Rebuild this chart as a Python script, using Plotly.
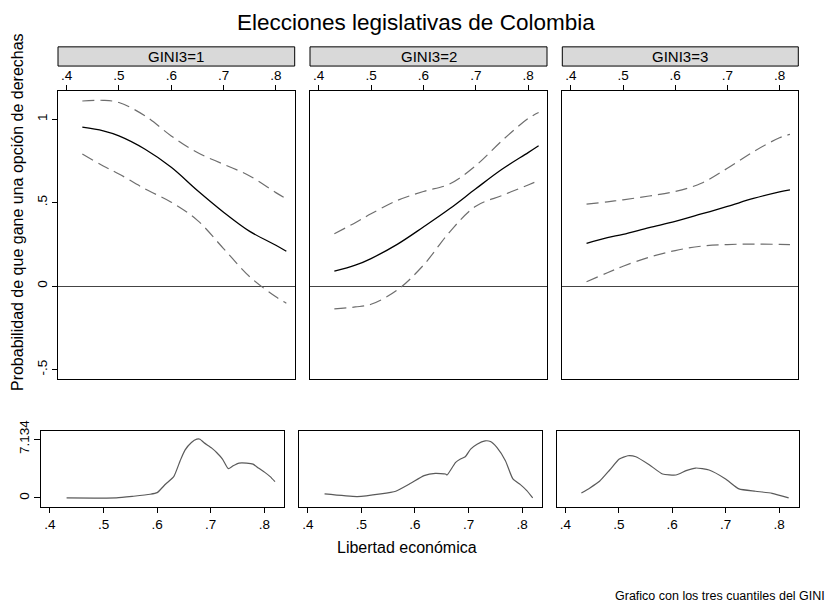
import plotly.graph_objects as go

W, H = 833, 605

# ---------------- data ----------------
panels = ["GINI3=1", "GINI3=2", "GINI3=3"]
x_fit = [0.43, 0.47, 0.50, 0.55, 0.60, 0.65, 0.70, 0.75, 0.80, 0.82]

mean1 = [0.952, 0.930, 0.900, 0.820, 0.712, 0.573, 0.443, 0.328, 0.245, 0.209]
upper1 = [1.109, 1.113, 1.100, 1.020, 0.900, 0.800, 0.730, 0.660, 0.560, 0.523]
lower1 = [0.791, 0.720, 0.672, 0.582, 0.503, 0.394, 0.225, 0.056, -0.064, -0.103]

mean2 = [0.089, 0.125, 0.165, 0.250, 0.354, 0.463, 0.583, 0.700, 0.800, 0.841]
upper2 = [0.314, 0.380, 0.433, 0.513, 0.567, 0.612, 0.722, 0.871, 1.004, 1.040]
lower2 = [-0.137, -0.125, -0.109, -0.024, 0.125, 0.324, 0.479, 0.543, 0.606, 0.632]

mean3 = [0.256, 0.290, 0.310, 0.350, 0.388, 0.432, 0.477, 0.525, 0.565, 0.577]
upper3 = [0.491, 0.505, 0.517, 0.540, 0.567, 0.616, 0.706, 0.805, 0.889, 0.909]
lower3 = [0.026, 0.080, 0.119, 0.173, 0.213, 0.239, 0.249, 0.252, 0.250, 0.249]

dens1_x = [0.431, 0.524, 0.556, 0.587, 0.600, 0.616, 0.631, 0.643, 0.652, 0.664, 0.674,
           0.680, 0.687, 0.702, 0.711, 0.722, 0.733, 0.742, 0.753, 0.767, 0.779, 0.789,
           0.801, 0.811, 0.820]
dens1_y = [0.0, 0.0, 0.2, 0.44, 0.64, 1.69, 2.58, 4.52, 5.8, 6.73, 7.134, 7.134, 6.73,
           6.05, 5.52, 4.72, 3.55, 3.91, 4.23, 4.23, 4.11, 3.63, 3.10, 2.58, 1.97]

dens2_x = [0.431, 0.492, 0.536, 0.564, 0.592, 0.617, 0.638, 0.657, 0.660, 0.676, 0.685,
           0.694, 0.704, 0.716, 0.731, 0.741, 0.753, 0.769, 0.783, 0.797, 0.809, 0.820]
dens2_y = [0.48, 0.16, 0.48, 0.81, 1.77, 2.70, 2.98, 2.90, 2.78, 4.31, 4.72, 5.0, 5.93,
           6.53, 6.93, 6.85, 6.13, 4.51, 2.30, 1.61, 0.89, 0.0]

dens3_x = [0.430, 0.446, 0.464, 0.483, 0.501, 0.517, 0.532, 0.557, 0.582, 0.607, 0.626,
           0.644, 0.669, 0.700, 0.725, 0.756, 0.787, 0.818]
dens3_y = [0.60, 1.21, 2.02, 3.39, 4.72, 5.12, 5.0, 4.03, 2.90, 2.78, 3.31, 3.63, 3.39,
           2.30, 1.09, 0.81, 0.56, 0.0]

x_tickvals = [0.4, 0.5, 0.6, 0.7, 0.8]
x_ticktext = [".4", ".5", ".6", ".7", ".8"]
y_tickvals = [-0.5, 0, 0.5, 1]
y_ticktext = ["-.5", "0", ".5", "1"]
d_tickvals = [0, 7.134]
d_ticktext = ["0", "7.134"]

title = "Elecciones legislativas de Colombia"
ytitle = "Probabilidad de que gane una opción de derechas"
xtitle = "Libertad económica"
note = "Grafico con los tres cuantiles del GINI"

# ---------------- layout helpers (target window pixels -> paper fractions) ----------------
OX, OY, PH = 8.0, 16.0, 597.0


def fx(px):
    return (px - OX) / W


def fy(px):
    return 1 - (px - OY) / PH


FONT = "Liberation Sans, Arial, sans-serif"
TICK = 13.5
top_x = [(58, 294.7), (310, 547), (562.3, 798.3)]
top_y = (88.7, 377.7)
bot_x = [(41.3, 284), (299.3, 541.7), (556.7, 798.7)]
bot_y = (430, 506)
strip_y = (44, 63.3)

fits = [(mean1, upper1, lower1), (mean2, upper2, lower2), (mean3, upper3, lower3)]
dens = [(dens1_x, dens1_y), (dens2_x, dens2_y), (dens3_x, dens3_y)]

fig = go.Figure()
layout = {}

for i in range(3):
    n = i + 1
    m, u, l = fits[i]
    xa = "x" if n == 1 else f"x{n}"
    ya = "y" if n == 1 else f"y{n}"
    for ser, dash, col, w in [(l, "12px,6px", "#6e6e6e", 1.2), (u, "12px,6px", "#6e6e6e", 1.2),
                              (m, "solid", "#000000", 1.3)]:
        fig.add_trace(go.Scatter(x=x_fit, y=ser, xaxis=xa, yaxis=ya, mode="lines",
                                 line=dict(color=col, width=w, dash=dash, shape="spline",
                                           smoothing=1.0),
                                 showlegend=False, hoverinfo="skip"))
    k = n + 3
    dx, dy = dens[i]
    fig.add_trace(go.Scatter(x=dx, y=dy, xaxis=f"x{k}", yaxis=f"y{k}", mode="lines",
                             line=dict(color="#5a5a5a", width=1.2, shape="spline", smoothing=0.5),
                             showlegend=False, hoverinfo="skip"))

    xkey = "xaxis" if n == 1 else f"xaxis{n}"
    ykey = "yaxis" if n == 1 else f"yaxis{n}"
    layout[xkey] = dict(domain=[fx(top_x[i][0]), fx(top_x[i][1])], anchor=ya, side="top",
                        range=[0.3835, 0.836], tickvals=x_tickvals, ticktext=x_ticktext,
                        ticks="outside", ticklen=5, tickcolor="#000", showline=True,
                        linecolor="#000", linewidth=1, mirror=True, showgrid=False,
                        zeroline=False, tickfont=dict(size=TICK, color="#000"))
    layout[ykey] = dict(domain=[fy(top_y[1]), fy(top_y[0])], anchor=xa,
                        range=[-0.556, 1.167], tickvals=y_tickvals, ticktext=y_ticktext,
                        ticks="outside" if n == 1 else "", ticklen=5, tickcolor="#000",
                        showticklabels=(n == 1), tickangle=-90, showline=True,
                        linecolor="#000", linewidth=1, mirror=True, showgrid=False,
                        zeroline=True, zerolinecolor="#444", zerolinewidth=1,
                        tickfont=dict(size=TICK, color="#000"))
    layout[f"xaxis{k}"] = dict(domain=[fx(bot_x[i][0]), fx(bot_x[i][1])], anchor=f"y{k}",
                               range=[0.3838, 0.8368], tickvals=x_tickvals, ticktext=x_ticktext,
                               ticks="outside", ticklen=5, tickcolor="#000", showline=True,
                               linecolor="#000", linewidth=1, mirror=True, showgrid=False,
                               zeroline=False, tickfont=dict(size=TICK, color="#000"))
    layout[f"yaxis{k}"] = dict(domain=[fy(bot_y[1]), fy(bot_y[0])], anchor=f"x{k}",
                               range=[-1.05, 8.14], tickvals=d_tickvals, ticktext=d_ticktext,
                               ticks="outside" if n == 1 else "", ticklen=6, tickcolor="#000",
                               showticklabels=(n == 1), tickangle=-90, showline=True,
                               linecolor="#000", linewidth=1, mirror=True, showgrid=False,
                               zeroline=False, tickfont=dict(size=TICK, color="#000"))

shapes = []
annotations = []
for i in range(3):
    x0, x1 = top_x[i]
    shapes.append(dict(type="rect", xref="paper", yref="paper", x0=fx(x0), x1=fx(x1),
                       y0=fy(strip_y[1]), y1=fy(strip_y[0]), fillcolor="#d9d9d9",
                       line=dict(color="#000", width=1), layer="below"))
    annotations.append(dict(xref="paper", yref="paper", x=fx((x0 + x1) / 2),
                            y=fy((strip_y[0] + strip_y[1]) / 2), text=panels[i],
                            showarrow=False, xanchor="center", yanchor="middle",
                            font=dict(size=15, color="#000", family=FONT)))

annotations.append(dict(xref="paper", yref="paper", x=fx(416), y=fy(20), text=title,
                        showarrow=False, xanchor="center", yanchor="middle",
                        font=dict(size=22.5, color="#000", family=FONT)))
annotations.append(dict(xref="paper", yref="paper", x=fx(17), y=fy(210), text=ytitle,
                        showarrow=False, xanchor="center", yanchor="middle", textangle=-90,
                        font=dict(size=16, color="#000", family=FONT)))
annotations.append(dict(xref="paper", yref="paper", x=fx(407), y=fy(547), text=xtitle,
                        showarrow=False, xanchor="center", yanchor="middle",
                        font=dict(size=16, color="#000", family=FONT)))
annotations.append(dict(xref="paper", yref="paper", x=fx(827), y=fy(596), text=note,
                        showarrow=False, xanchor="right", yanchor="middle",
                        font=dict(size=12.5, color="#000", family=FONT)))

fig.update_layout(width=W, height=H, margin=dict(l=0, r=0, t=0, b=0),
                  paper_bgcolor="white", plot_bgcolor="white",
                  font=dict(family=FONT, color="#000"),
                  shapes=shapes, annotations=annotations, **layout)

fig.write_html("out.html")
